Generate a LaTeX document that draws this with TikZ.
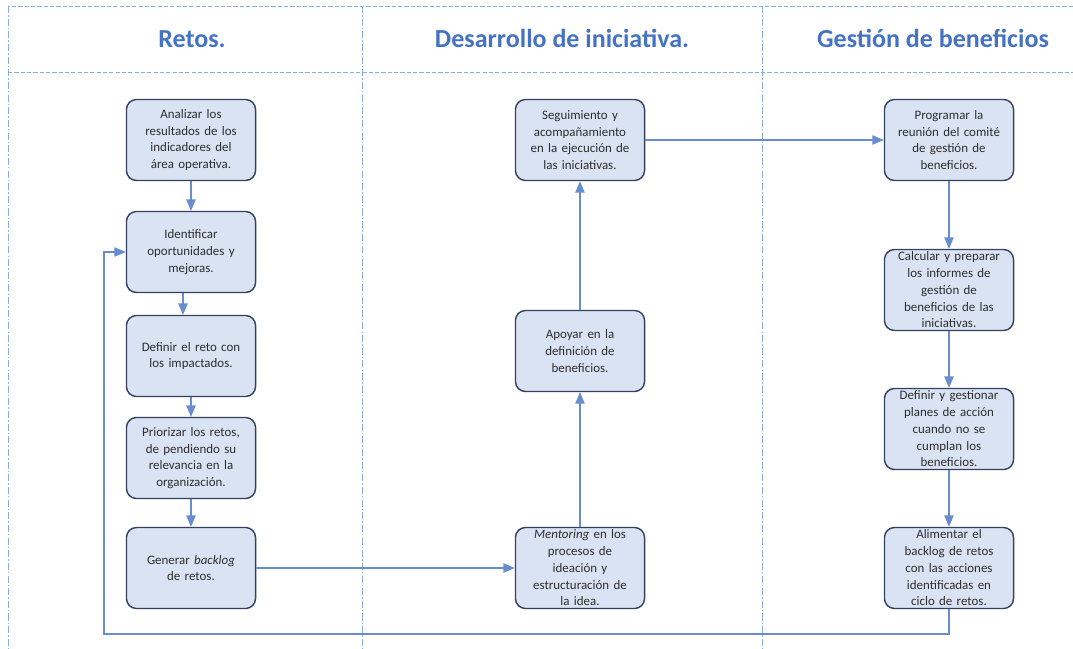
\documentclass[tikz,border=0pt]{standalone}
\usepackage{fontspec}
\setmainfont{Carlito}
\usepackage{tikz}
\usetikzlibrary{arrows}

\definecolor{titleblue}{RGB}{68,114,196}
\definecolor{boxfill}{RGB}{218,227,243}
\definecolor{boxline}{RGB}{52,66,94}
\definecolor{flowline}{RGB}{105,140,208}
\definecolor{gridline}{RGB}{143,170,220}
\definecolor{boxtext}{RGB}{45,45,45}

\tikzset{
    paso/.style={draw=boxline, line width=1pt, fill=boxfill, rounded corners=0.25cm,
        minimum width=3.225cm, minimum height=2.025cm, inner xsep=2.9pt, inner ysep=0pt,
        text width=86pt, align=center, text=boxtext, font=\fontsize{9.2}{11.9}\selectfont},
    titulo/.style={anchor=base, text=titleblue, font=\fontsize{18.5}{22}\selectfont\bfseries},
    flujo/.style={draw=flowline, line width=0.85pt, -triangle 45},
    guiah/.style={draw=gridline, line width=0.6pt, dash pattern=on 3pt off 1.5pt},
    guiav/.style={draw=gridline, line width=0.6pt, dash pattern=on 5pt off 1.5pt on 1pt off 1.5pt}
}

\begin{document}
\begin{tikzpicture}[x=0.025cm, y=-0.025cm]
    \useasboundingbox (0,0) rectangle (1073,649);
    \draw[guiah] (1073,6) -- (8,6);
    \draw[guiah] (8,72) -- (1073,72);
    \draw[guiav] (8,6) -- (8,649);
    \draw[guiav] (362,6) -- (362,649);
    \draw[guiav] (762,6) -- (762,649);

    \node[titulo] (tretos) at (192,48) {Retos.};
    \node[titulo] (tdesarrollo) at (562,48) {Desarrollo de iniciativa.};
    \node[titulo] (tgestion) at (933,48) {Gestión de beneficios};

    \node[paso] (analizar) at (191,140) {Analizar los\\ resultados de los\\ indicadores del\\ área operativa.};
    \node[paso] (identificar) at (191,252) {Identificar\\ oportunidades y\\ mejoras.};
    \node[paso] (definir) at (191,356) {Definir el reto con\\ los impactados.};
    \node[paso] (priorizar) at (191,458) {Priorizar los retos,\\ de pendiendo su\\ relevancia en la\\ organización.};
    \node[paso] (generar) at (191,568) {Generar \textit{backlog}\\ de retos.};

    \node[paso] (mentoring) at (580,568) {\textit{Mentoring} en los\\ procesos de\\ ideación y\\ estructuración de\\ la idea.};
    \node[paso] (apoyar) at (580,351) {Apoyar en la\\ definición de\\ beneficios.};
    \node[paso] (seguimiento) at (580,140) {Seguimiento y\\ acompañamiento\\ en la ejecución de\\ las iniciativas.};

    \node[paso] (programar) at (949,140) {Programar la\\ reunión del comité\\ de gestión de\\ beneficios.};
    \node[paso] (calcular) at (949,290) {Calcular y preparar\\ los informes de\\ gestión de\\ beneficios de las\\ iniciativas.};
    \node[paso] (gestionar) at (949,429) {Definir y gestionar\\ planes de acción\\ cuando no se\\ cumplan los\\ beneficios.};
    \node[paso] (alimentar) at (949,568) {Alimentar el\\ backlog de retos\\ con las acciones\\ identificadas en\\ ciclo de retos.};

    \coordinate (retorno) at (104,634);

    \draw[flujo] (analizar) -- (identificar);
    \draw[flujo] ([xshift=-0.2cm]identificar.south) -- ([xshift=-0.2cm]definir.north);
    \draw[flujo] (definir) -- (priorizar);
    \draw[flujo] (priorizar) -- (generar);
    \draw[flujo] (generar) -- (mentoring);
    \draw[flujo] (mentoring) -- (apoyar);
    \draw[flujo] (apoyar) -- (seguimiento);
    \draw[flujo] (seguimiento) -- (programar);
    \draw[flujo] (programar) -- (calcular);
    \draw[flujo] (calcular) -- (gestionar);
    \draw[flujo] (gestionar) -- (alimentar);
    \draw[flujo] (alimentar.south) |- (retorno) |- (identificar.west);
\end{tikzpicture}
\end{document}
